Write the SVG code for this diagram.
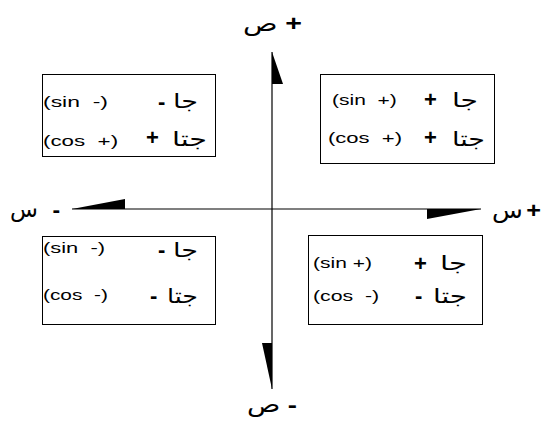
<svg xmlns="http://www.w3.org/2000/svg" width="542" height="423" viewBox="0 0 542 423">
<style>
.bx{fill:#fff;stroke:#000;stroke-width:1}
.lat{font-family:"Liberation Sans",Arial,sans-serif;font-size:15px;fill:#000}
.ar{font-family:"DejaVu Sans",sans-serif;font-size:20px;fill:#000}
.sg{font-family:"Liberation Sans",Arial,sans-serif;font-size:22px;font-weight:bold;fill:#000}
.ax{stroke:#000;stroke-width:1.2;fill:none}
.lbl{font-family:"DejaVu Sans",sans-serif;font-size:22px;fill:#000}
</style>
<rect width="542" height="423" fill="#fff"/>
<g id="connectors">
<line class="ax" x1="72" y1="209" x2="481" y2="209"/>
<line class="ax" x1="272" y1="52" x2="272" y2="389"/>
<polygon points="272,52 283,84 272,84" fill="#000"/>
<polygon points="262,343 272,343 272,389" fill="#000"/>
<polygon points="72,209 125,199 125,209" fill="#000"/>
<polygon points="427,209 427,219 481,209" fill="#000"/>
</g>
<g id="label-y-plus"><text class="lbl" x="243" y="31" textLength="59" lengthAdjust="spacingAndGlyphs">ص<tspan class="sg" dx="6">+</tspan></text></g>
<g id="label-y-minus"><text class="lbl" x="247" y="412" textLength="50" lengthAdjust="spacingAndGlyphs">ص<tspan class="sg" dx="6">-</tspan></text></g>
<g id="label-x-minus"><text class="lbl" x="10" y="217" textLength="50" lengthAdjust="spacingAndGlyphs">س<tspan class="sg" dx="14">-</tspan></text></g>
<g id="label-x-plus"><text class="lbl" x="492" y="218" textLength="49" lengthAdjust="spacingAndGlyphs">س<tspan class="sg" dx="3">+</tspan></text></g>
<g id="q2">
<rect class="bx" x="42.5" y="74.5" width="173" height="82"/>
<text class="lat" transform="translate(43,107) scale(1.53,1)">(sin&#160;&#160;-)</text>
<text class="sg" x="158" y="109">-</text>
<text class="ar" x="198" y="108" text-anchor="end" textLength="25" lengthAdjust="spacingAndGlyphs">جا</text>
<text class="lat" transform="translate(43,146) scale(1.49,1)">(cos&#160;&#160;+)</text>
<text class="sg" x="146" y="145">+</text>
<text class="ar" x="207" y="146" text-anchor="end" textLength="35" lengthAdjust="spacingAndGlyphs">جتا</text>
</g>
<g id="q1">
<rect class="bx" x="320.5" y="74.5" width="174" height="89"/>
<text class="lat" transform="translate(332,105) scale(1.4,1)">(sin&#160;&#160;+)</text>
<text class="sg" x="424" y="107">+</text>
<text class="ar" x="478" y="107" text-anchor="end" textLength="26" lengthAdjust="spacingAndGlyphs">جا</text>
<text class="lat" transform="translate(328,143) scale(1.47,1)">(cos&#160;&#160;+)</text>
<text class="sg" x="424" y="145">+</text>
<text class="ar" x="485" y="146" text-anchor="end" textLength="33" lengthAdjust="spacingAndGlyphs">جتا</text>
</g>
<g id="q3">
<rect class="bx" x="42.5" y="236.5" width="173" height="88"/>
<text class="lat" transform="translate(43,253) scale(1.46,1)">(sin&#160;&#160;-)</text>
<text class="sg" x="158" y="257">-</text>
<text class="ar" x="198" y="257" text-anchor="end" textLength="25" lengthAdjust="spacingAndGlyphs">جا</text>
<text class="lat" transform="translate(43,300) scale(1.39,1)">(cos&#160;&#160;-)</text>
<text class="sg" x="150" y="303">-</text>
<text class="ar" x="198" y="303" text-anchor="end" textLength="31" lengthAdjust="spacingAndGlyphs">جتا</text>
</g>
<g id="q4">
<rect class="bx" x="308.5" y="235.5" width="174" height="89"/>
<text class="lat" transform="translate(313,268) scale(1.4,1)">(sin +)</text>
<text class="sg" x="414" y="271">+</text>
<text class="ar" x="467" y="270" text-anchor="end" textLength="27" lengthAdjust="spacingAndGlyphs">جا</text>
<text class="lat" transform="translate(313,301) scale(1.42,1)">(cos&#160;&#160;-)</text>
<text class="sg" x="415" y="303">-</text>
<text class="ar" x="467" y="303" text-anchor="end" textLength="34" lengthAdjust="spacingAndGlyphs">جتا</text>
</g>
</svg>
